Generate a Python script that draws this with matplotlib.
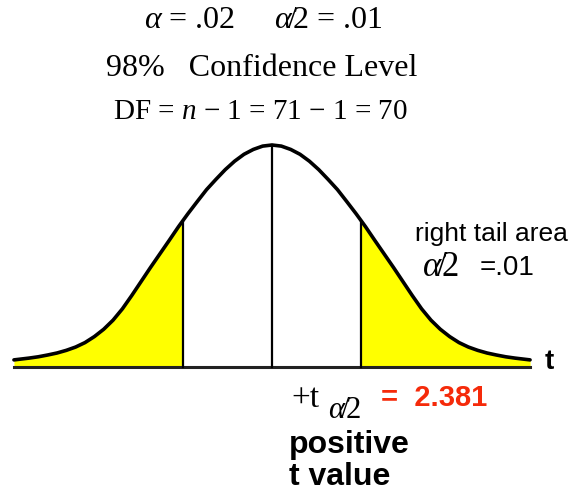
import numpy as np
import matplotlib
matplotlib.use("Agg")
import matplotlib.pyplot as plt

plt.rcParams['mathtext.fontset'] = 'custom'
plt.rcParams['mathtext.rm'] = 'Liberation Serif'
plt.rcParams['mathtext.it'] = 'Liberation Serif:italic'

# right half of the bell curve (t units, relative height), mirrored below
t_half = [0.00, 0.25, 0.50, 0.75, 1.00, 1.25, 1.50, 1.75, 2.00, 2.25, 2.50, 2.75, 3.00,
          3.25, 3.50, 3.75, 4.00, 4.25, 4.50, 4.75, 5.00, 5.25, 5.50, 5.75, 6.00,
          6.25, 6.50, 6.75, 6.90]
h_half = [1.000, 0.995, 0.980, 0.958, 0.927, 0.889, 0.845, 0.799, 0.745, 0.690, 0.632, 0.570, 0.509,
          0.448, 0.385, 0.322, 0.262, 0.211, 0.170, 0.137, 0.110, 0.090, 0.075, 0.063, 0.054,
          0.046, 0.040, 0.035, 0.032]

t_crit = 2.381
alpha = ".02"
half_alpha = ".01"
conf_level = "98%"
n = 71
df = n - 1

t = np.concatenate([-np.array(t_half[::-1]), np.array(t_half[1:])])
h = np.concatenate([np.array(h_half[::-1]), np.array(h_half[1:])])

W, H = 582, 492
fig = plt.figure(figsize=(W / 100, H / 100), dpi=100)
ax = fig.add_axes([0, 0, 1, 1])
ax.set_xlim(-272 / 37.4, (W - 272) / 37.4)
ax.set_ylim(-(H - 367) / 222, 367 / 222)
ax.axis('off')

yellow = '#FFFF00'
h_crit = np.interp(t_crit, t, h)

# shaded tails
right = t > t_crit
ax.fill_between(np.concatenate([[t_crit], t[right]]), 0,
                np.concatenate([[h_crit], h[right]]), color=yellow, lw=0, zorder=1)
left = t < -t_crit
ax.fill_between(np.concatenate([t[left], [-t_crit]]), 0,
                np.concatenate([h[left], [h_crit]]), color=yellow, lw=0, zorder=1)

ax.plot(t, h, color='black', lw=2.6, solid_capstyle='round', solid_joinstyle='round', zorder=3)
ax.plot([t[0], t[-1]], [0, 0], color='#222222', lw=2.2, zorder=2)
ax.plot([t_crit, t_crit], [0, h_crit], color='black', lw=1.6, zorder=2)
ax.plot([-t_crit, -t_crit], [0, h_crit], color='black', lw=1.6, zorder=2)
ax.plot([0, 0], [0, h.max()], color='black', lw=1.6, zorder=2)


def px(x, y):
    return x / W, 1 - y / H


serif = 'Liberation Serif'
sans = 'Liberation Sans'

fig.text(*px(263, 20), r'$\alpha$ = ' + alpha + r'     $\alpha\!/\!2$ = ' + half_alpha,
         family=serif, fontsize=23, ha='center', va='center')
fig.text(*px(262, 68), conf_level + '   Confidence Level',
         family=serif, fontsize=23, ha='center', va='center')
fig.text(*px(260, 112), 'DF = $n$ \u2212 1 = %d \u2212 1 = %d' % (n, df),
         family=serif, fontsize=21, ha='center', va='center')

fig.text(*px(415, 234), 'right tail area', family=sans, fontsize=19, ha='left', va='center')
fig.text(*px(422, 268), r'$\alpha\!/\!2$', family=serif, fontsize=25, ha='left', va='center')
fig.text(*px(480, 268), '=' + half_alpha, family=sans, fontsize=20, ha='left', va='center')

fig.text(*px(545, 362), 't', family=sans, fontsize=20, weight='bold', ha='left', va='center')

fig.text(*px(291, 399), '+t', family=serif, fontsize=24, ha='left', va='center')
fig.text(*px(328, 410), r'$\alpha\!/\!2$', family=serif, fontsize=22, ha='left', va='center')
fig.text(*px(381, 398), '=  %.3f' % t_crit, family=sans, fontsize=21, weight='bold',
         color='#F52A0A', ha='left', va='center')

fig.text(*px(289, 445), 'positive', family=sans, fontsize=23, weight='bold', ha='left', va='center')
fig.text(*px(289, 477), 't value', family=sans, fontsize=23, weight='bold', ha='left', va='center')

fig.savefig('out.png', dpi=100)
